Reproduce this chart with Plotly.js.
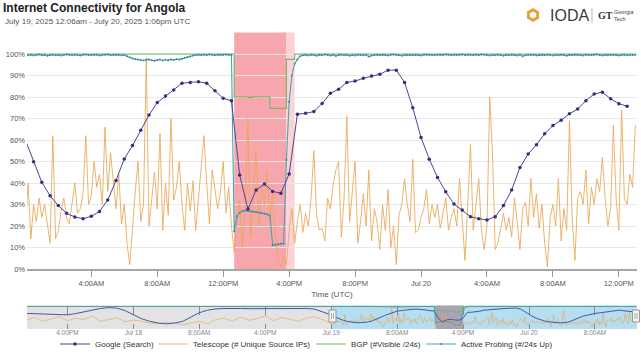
<!DOCTYPE html>
<html>
<head>
<meta charset="utf-8">
<script src="https://cdn.plot.ly/plotly-3.0.1.min.js"></script>
<style>html,body{margin:0;padding:0;background:#fff;}#chart{width:641px;height:359px;}</style>
</head>
<body>
<div id="chart"></div>
<script>
// ---------------- DATA ----------------
// Google (Search), every 30 min from 2025-07-19 00:00
const googleStart = '2025-07-19T00:00';
const googleVals = [60,49.9,40.3,34.1,29.5,25.9,24.2,23.4,24.5,26.8,32.1,41.2,51.2,57.4,64.5,71.6,77.4,80.5,83.3,86.4,
  86.8,87.1,86.4,82.9,79.4,78.3,43.7,27.9,36.7,39.5,36.1,35.2,44.2,72.0,72.4,73.2,77.0,81.7,83.6,86.8,
  87.4,88.7,89.8,90.6,92.5,92.5,86.8,75.0,61.2,51.1,42.6,35.9,30.2,27.4,24.3,23.4,22.8,24.3,29.5,36.8,
  47.2,53.5,57.8,62.9,66.7,69.2,72.2,74.4,78.3,81.4,82.2,79.2,76.9,75.7];

// Telescope (# Unique Source IPs), every 10 min from 2025-07-19 00:00
const teleStart = '2025-07-19T00:00';
const teleVals = [18,40,14,30,22,33, 24,30,21,12,62,14, 18,27,33,24,21,30, 40,26,28,35,62,30,
  34,50,38,44,30,66, 36,54,40,28,44,21, 30,12,2,20,36,50, 22,30,98,20,34,45,
  28,63,18,40,25,70, 32,38,50,30,18,40, 27,41,18,33,45,62, 40,21,46,38,28,36,
  50,26,38,20,8,22, 32,10,30,70,15,35, 55,20,38,30,46,22, 35,15,4,1,6,2,
  18,28,12,22,30,17, 26,20,33,55,25,18, 19,13,33,28,39,46, 50,15,33,71,22,36,
  50,12,22,35,20,46, 13,28,22,9,30,18, 37,10,20,2,25,30, 42,30,22,51,17,18,
  24,28,37,21,30,24, 30,19,26,33,18,24, 28,20,42,24,4,30, 58,18,30,42,18,9,
  20,80,54,9,12,19, 26,18,24,15,33,22, 9,28,31,20,42,24, 35,19,30,12,1,24,
  30,20,42,13,28,18, 69,24,4,33,36,30, 46,21,38,30,42,36, 52,33,20,28,67,33,
  18,74,33,30,44,38,67];

// Active Probing (#/24s Up), every 10 min from 2025-07-19 00:00
const apStart = '2025-07-19T00:00';
const apVals = [99.6,99.4,99.7,99.3,99.5,99.8,99.4,99.6,99.2,99.5,99.7,99.4,99.6,99.3,99.5,99.8,99.6,99.4,99.7,99.5,
  99.3,99.6,99.8,99.5,99.4,99.6,99.7,99.3,99.5,99.6,99.8,99.4,99.6,99.5,99.7,99.4,99.5,
  99.0,98.4,97.9,97.6,97.4,97.2,
  97.0,97.3,97.5,97.1,96.9,97.2,97.4,97.0,97.3,97.1,97.5,97.2,97.6,97.4,
  97.8,98.2,98.6,99.0,99.3,99.5,
  99.6,99.4,99.7,99.5,99.8,99.6,99.4,99.7,99.5,99.6,99.8,99.5,99.6,
  17.4,
  24.5,26.2,27.0,27.2,27.0,26.8,26.8,26.5,26.3,26.0,25.8,25.5,24.8,
  11.2,11.3,11.5,11.7,11.9,
  50.7,77.8,90.0,95.5,97.5,99.0,
  99.4,99.6,99.3,99.7,99.5,99.2,99.6,99.4,99.8,99.5,
  99.3,99.6,99.1,99.5,99.7,99.4,99.6,99.2,99.5,99.3,
  99.7,99.5,99.4,99.6,98.8,99.3,99.5,99.7,99.4,99.6,
  99.5,99.3,99.6,99.8,99.5,99.4,99.2,99.6,99.5,99.7,
  99.4,99.6,99.5,99.3,99.7,99.8,99.6,99.5,99.4,99.6,
  99.7,99.5,99.8,99.6,99.4,99.7,99.5,99.6,99.8,99.5,
  99.7,99.6,99.4,99.7,99.5,99.8,99.6,99.5,99.3,99.6,
  99.4,99.7,99.5,99.2,99.6,99.4,99.7,99.5,99.3,99.6,
  98.9,99.4,99.6,99.5,99.7,99.3,99.5,99.6,99.4,99.7,
  99.5,99.3,99.6,99.4,99.7,99.5,99.2,99.6,99.4,99.7,
  99.5,99.6,99.3,99.7,99.5,99.4,99.6,99.8,99.5,99.3,
  99.6,99.4,99.7,99.5,99.6,99.3,99.5,99.7,99.4,99.6,
  99.5,99.6];

// BGP (#Visible /24s), step changes
const bgpTimes = ['2025-07-17 11:00','2025-07-19 12:40','2025-07-19 13:30','2025-07-19 13:50','2025-07-19 14:50','2025-07-19 15:50','2025-07-19 16:20','2025-07-20 13:00'];
const bgpVals  = [100, 80.1, 79.8, 80.1, 74.7, 97.5, 100, 100];

// Navigator history (hourly), 2025-07-17 11:00 .. 2025-07-18 23:00
const histStart = '2025-07-17T11:00';
const googleHist = [67,65,63,62,60,60,66,75,84,90,94,92,80,60,42,30,22,18,22,30,50,70,82,88,90,91,90,89,89,90,90,91,91,92,90,87,75];
const teleHist   = [35,48,30,42,52,33,45,38,55,30,40,47,28,36,30,22,18,25,20,15,22,30,18,38,45,30,50,35,42,55,33,48,40,30,45,52,38];
const apHist     = [99.5,99.6,99.4,99.7,99.5,99.3,99.6,99.5,99.7,99.4,99.6,99.5,99.3,99.6,99.7,99.5,99.4,99.6,99.5,99.7,99.4,99.6,99.5,99.3,99.6,99.7,99.5,99.4,99.6,99.5,99.7,99.4,99.6,99.5,99.3,99.6,99.5];

// Outage alerts
const outageStarts = ['2025-07-19 12:40','2025-07-19 15:50'];
const outageEnds   = ['2025-07-19 15:50','2025-07-19 16:20'];
const navOutage    = ['2025-07-19 12:40','2025-07-19 16:00'];

// Axis ranges / ticks
const mainRange = ['2025-07-19 00:06','2025-07-20 13:06'];
const navRange  = ['2025-07-17 11:06','2025-07-20 13:06'];
const mainTickVals = ['2025-07-19 04:00','2025-07-19 08:00','2025-07-19 12:00','2025-07-19 16:00','2025-07-19 20:00','2025-07-20 00:00','2025-07-20 04:00','2025-07-20 08:00','2025-07-20 12:00'];
const mainTickText = ['4:00AM','8:00AM','12:00PM','4:00PM','8:00PM','Jul 20','4:00AM','8:00AM','12:00PM'];
const navTickVals = ['2025-07-17 16:00','2025-07-18 00:00','2025-07-18 08:00','2025-07-18 16:00','2025-07-19 00:00','2025-07-19 08:00','2025-07-19 16:00','2025-07-20 00:00','2025-07-20 08:00'];
const navTickText = ['4:00PM','Jul 18','8:00AM','4:00PM','Jul 19','8:00AM','4:00PM','Jul 20','8:00AM'];
const yTickVals = [0,10,20,30,40,50,60,70,80,90,100,110];
const yTickText = ['0%','10%','20%','30%','40%','50%','60%','70%','80%','90%','100%',''];

// ---------------- HELPERS ----------------
function timeAxis(start, stepMin, n){
  const t0 = Date.parse(start + ':00Z');
  const out = [];
  for (let i = 0; i < n; i++) out.push(new Date(t0 + i*stepMin*60000).toISOString().slice(0,16).replace('T',' '));
  return out;
}
const W = 641, H = 359;
const px = x => x / W, py = y => 1 - y / H;

const googleX = timeAxis(googleStart, 30, googleVals.length);
const teleX = timeAxis(teleStart, 10, teleVals.length);
const apX = timeAxis(apStart, 10, apVals.length);
const histX = timeAxis(histStart, 60, googleHist.length);

const C = {google:'#4e4596', googleM:'#362f7e', tele:'rgba(232,168,86,0.85)', bgp:'#7ab46a', ap:'#45a6aa', apM:'#3b8a9e'};

const traces = [
  {type:'scatter', mode:'lines', x:teleX, y:teleVals, name:'Telescope (# Unique Source IPs)', legend:'legend2',
   line:{color:C.tele, width:1}, hoverinfo:'skip'},
  {type:'scatter', mode:'lines', x:bgpTimes, y:bgpVals, name:'BGP (#Visible /24s)', legend:'legend3',
   line:{color:C.bgp, width:1.2, shape:'hv'}, hoverinfo:'skip'},
  {type:'scatter', mode:'lines+markers', x:apX, y:apVals, name:'Active Probing (#/24s Up)', legend:'legend4',
   line:{color:C.ap, width:1.1}, marker:{color:C.apM, size:2}, hoverinfo:'skip'},
  {type:'scatter', mode:'lines+markers', x:googleX, y:googleVals, name:'Google (Search)', legend:'legend',
   line:{color:C.google, width:1}, marker:{color:C.googleM, size:3.5}, hoverinfo:'skip'},
  // navigator
  {type:'scatter', mode:'lines', x:histX.concat(teleX), y:teleHist.concat(teleVals), xaxis:'x2', yaxis:'y2', showlegend:false,
   line:{color:'rgba(232,168,86,0.8)', width:0.8}, hoverinfo:'skip'},
  {type:'scatter', mode:'lines', x:bgpTimes, y:bgpVals, xaxis:'x2', yaxis:'y2', showlegend:false,
   line:{color:C.bgp, width:1, shape:'hv'}, hoverinfo:'skip'},
  {type:'scatter', mode:'lines', x:histX.concat(apX), y:apHist.concat(apVals), xaxis:'x2', yaxis:'y2', showlegend:false,
   line:{color:C.ap, width:1}, hoverinfo:'skip'},
  {type:'scatter', mode:'lines', x:histX.concat(googleX), y:googleHist.concat(googleVals), xaxis:'x2', yaxis:'y2', showlegend:false,
   line:{color:'#4a56a6', width:1}, hoverinfo:'skip'}
];

const shapes = [];
shapes.push({type:'rect', xref:'x', yref:'y domain', x0:outageStarts[0], x1:outageEnds[0], y0:0, y1:1, fillcolor:'#f7a6ad', line:{width:0}, layer:'below'});
shapes.push({type:'rect', xref:'x', yref:'y domain', x0:outageStarts[1], x1:outageEnds[1], y0:0, y1:1, fillcolor:'#fbd2d6', line:{width:0}, layer:'below'});
shapes.push({type:'rect', xref:'x2', yref:'y2 domain', x0:navRange[0], x1:mainRange[0], y0:0, y1:1, fillcolor:'#e3e3e3', line:{width:0}, layer:'below'});
shapes.push({type:'rect', xref:'x2', yref:'y2 domain', x0:mainRange[0], x1:navRange[1], y0:0, y1:1, fillcolor:'#b5dff1', line:{width:0}, layer:'below'});
shapes.push({type:'rect', xref:'x2', yref:'y2 domain', x0:navOutage[0], x1:navOutage[1], y0:0, y1:1, fillcolor:'#a9a3b4', line:{width:0}, layer:'below'});
[332.5, 636].forEach(hx => {
  shapes.push({type:'rect', xref:'paper', yref:'paper', x0:px(hx-3.5), x1:px(hx+3.5), y0:py(322), y1:py(310), fillcolor:'#f4f4f4', line:{color:'#999', width:1}});
  shapes.push({type:'line', xref:'paper', yref:'paper', x0:px(hx-1), x1:px(hx-1), y0:py(319), y1:py(313), line:{color:'#999', width:0.8}});
  shapes.push({type:'line', xref:'paper', yref:'paper', x0:px(hx+1), x1:px(hx+1), y0:py(319), y1:py(313), line:{color:'#999', width:0.8}});
});
function hexPath(cx, cy, r){
  let p = '';
  for (let k = 0; k < 6; k++){
    const a = Math.PI/180*(60*k - 90);
    p += (k===0?'M':'L') + px(cx + r*Math.cos(a)) + ',' + py(cy + r*Math.sin(a)) + ' ';
  }
  return p + 'Z';
}
shapes.push({type:'path', xref:'paper', yref:'paper', path:hexPath(533,15,7), fillcolor:'#e9a23b', line:{width:0}});
shapes.push({type:'path', xref:'paper', yref:'paper', path:hexPath(533,15,3.6), fillcolor:'#ffffff', line:{width:0}});
shapes.push({type:'line', xref:'paper', yref:'paper', x0:px(592), x1:px(592), y0:py(8), y1:py(23), line:{color:'#bbb', width:1}});

const annotations = [
  {xref:'paper', yref:'paper', x:px(3), y:py(21), xanchor:'left', yanchor:'middle', showarrow:false,
   text:'July 19, 2025 12:06am - July 20, 2025 1:06pm UTC', font:{size:8.1, color:'#555'}},
  {xref:'paper', yref:'paper', x:px(548), y:py(15.5), xanchor:'left', yanchor:'middle', showarrow:false,
   text:'IODA', font:{size:16, color:'#3b3b3b'}},
  {xref:'paper', yref:'paper', x:px(596), y:py(15.5), xanchor:'left', yanchor:'middle', showarrow:false,
   text:'<b>GT</b>', font:{size:10, color:'#333', family:'Liberation Serif, serif'}},
  {xref:'paper', yref:'paper', x:px(612), y:py(12), xanchor:'left', yanchor:'middle', showarrow:false,
   text:'Georgia', font:{size:5.5, color:'#444'}},
  {xref:'paper', yref:'paper', x:px(612), y:py(18.5), xanchor:'left', yanchor:'middle', showarrow:false,
   text:'Tech', font:{size:5.5, color:'#444'}}
];

const legY = py(344);
const legBase = {orientation:'h', xanchor:'left', y:legY, yanchor:'middle', font:{size:8, color:'#333'}, itemwidth:30, bgcolor:'rgba(0,0,0,0)'};
const legendTextStarts = [97, 195, 353, 463];

const layout = {
  width:W, height:H,
  margin:{l:0, r:0, t:0, b:0},
  paper_bgcolor:'#fff', plot_bgcolor:'#fff',
  font:{family:'Liberation Sans, Arial, sans-serif', size:8, color:'#555'},
  title:{text:'<b>Internet Connectivity for Angola</b>', xref:'container', yref:'container', x:px(3), xanchor:'left', y:py(8), yanchor:'middle',
         font:{family:'Liberation Sans, Arial, sans-serif', size:12, color:'#222'}},
  showlegend:true,
  legend:Object.assign({}, legBase, {x:px(legendTextStarts[0]-42)}),
  legend2:Object.assign({}, legBase, {x:px(legendTextStarts[1]-42)}),
  legend3:Object.assign({}, legBase, {x:px(legendTextStarts[2]-42)}),
  legend4:Object.assign({}, legBase, {x:px(legendTextStarts[3]-42)}),
  xaxis:{domain:[px(27), px(637)], type:'date', range:mainRange, tickvals:mainTickVals, ticktext:mainTickText,
         showgrid:false, showline:true, linecolor:'#a6a6a6', linewidth:2, ticks:'outside', ticklen:6, tickcolor:'#999',
         tickfont:{size:7.5, color:'#555'}, title:{text:'Time (UTC)', font:{size:8, color:'#555'}, standoff:4}, anchor:'y', fixedrange:true},
  yaxis:{domain:[py(269), py(32.5)], range:[0,110], tickvals:yTickVals, ticktext:yTickText, showgrid:true, gridcolor:'#e8e8e8',
         zeroline:false, showline:false, ticks:'', ticklabelstandoff:1, tickfont:{size:7.5, color:'#555'}, anchor:'x', fixedrange:true},
  xaxis2:{domain:[px(27), px(637)], type:'date', range:navRange, tickvals:navTickVals, ticktext:navTickText, anchor:'y2',
          showgrid:true, gridcolor:'#8a8a8a', griddash:'dash', gridwidth:1, showline:false, ticks:'', ticklabelstandoff:-2,
          tickfont:{size:6.5, color:'#888'}, fixedrange:true},
  yaxis2:{domain:[py(329), py(305.5)], range:[-6,104], visible:false, anchor:'x2', fixedrange:true},
  shapes:shapes,
  annotations:annotations
};

Plotly.newPlot('chart', traces, layout, {displayModeBar:false, staticPlot:true});
</script>
</body>
</html>
